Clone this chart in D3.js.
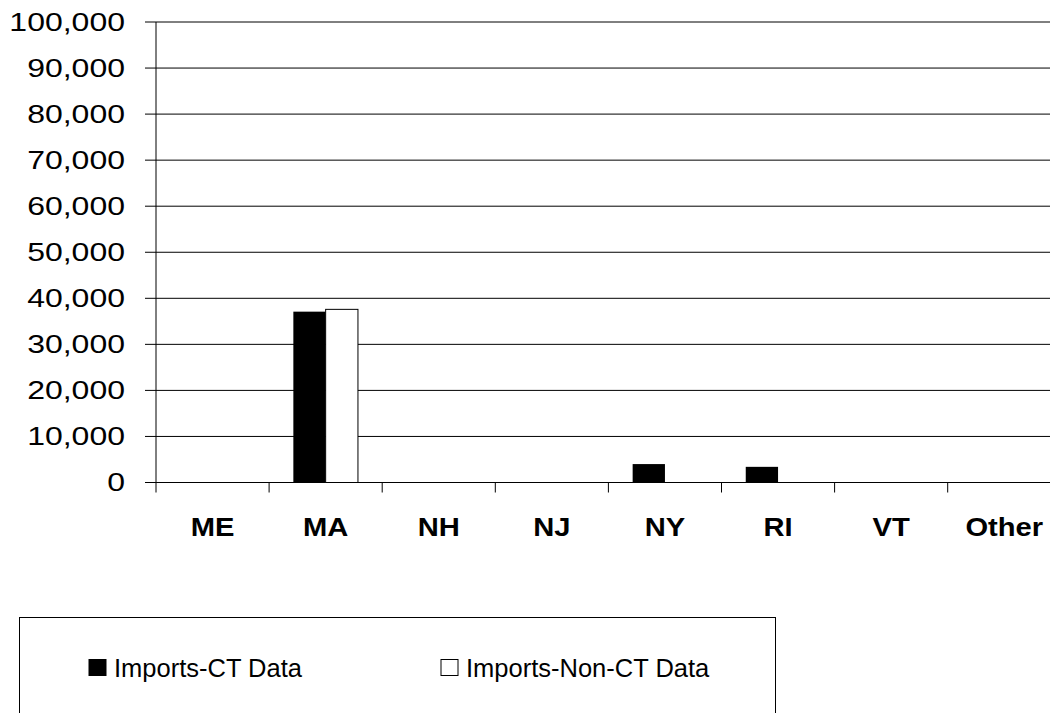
<!DOCTYPE html>
<html lang="en">
<head>
<meta charset="UTF-8">
<title>Imports by state</title>
<script src="https://d3js.org/d3.v7.min.js"></script>
<style>
  body { margin: 0; background: white; }
  svg { display: block; font-family: "Liberation Sans", Arial, sans-serif; }
  .ylab text { font-size: 25.6px; fill: black; }
  .xlab text { font-size: 26.5px; font-weight: bold; fill: black; }
</style>
</head>
<body>
<div id="chart"></div>
<script>
// values
const states = ["ME", "MA", "NH", "NJ", "NY", "RI", "VT", "Other"];
const importsCT = [0, 37100, 0, 0, 4000, 3400, 0, 0];
const importsNonCT = [0, 37600, 0, 0, 0, 0, 0, 0];
const yTicks = [0, 10000, 20000, 30000, 40000, 50000, 60000, 70000, 80000, 90000, 100000];
const seriesNames = ["Imports-CT Data", "Imports-Non-CT Data"];

const W = 1050, H = 713;
const plotLeft = 156, plotTop = 22, plotBottom = 482.5, band = 113.1;

const svg = d3.select("#chart").append("svg")
  .attr("width", W).attr("height", H);

const x = d3.scaleBand().domain(states).range([plotLeft, plotLeft + band * states.length]);
const y = d3.scaleLinear().domain([0, 100000]).range([plotBottom, plotTop]);
const barW = 32.3;

// gridlines + left ticks
svg.append("g").selectAll("line").data(yTicks).enter().append("line")
  .attr("x1", 145).attr("x2", W)
  .attr("y1", d => y(d)).attr("y2", d => y(d))
  .attr("stroke", "black").attr("stroke-width", 1);

// y axis line
svg.append("line")
  .attr("x1", plotLeft).attr("x2", plotLeft)
  .attr("y1", y(100000)).attr("y2", y(0))
  .attr("stroke", "black");

// y labels (stretched a bit wider, like the original)
svg.append("g").attr("class", "ylab").selectAll("text").data(yTicks).enter().append("text")
  .attr("text-anchor", "end")
  .attr("dominant-baseline", "central")
  .attr("transform", d => "translate(125," + y(d) + ") scale(1.25,1)")
  .text(d => d3.format(",")(d));

// x ticks at band edges
const edges = states.map(s => x(s));
svg.append("g").selectAll("line").data(edges).enter().append("line")
  .attr("x1", d => d).attr("x2", d => d)
  .attr("y1", y(0)).attr("y2", y(0) + 10)
  .attr("stroke", "black");

// bars
const cx = s => x(s) + x.bandwidth() / 2;
svg.append("g").selectAll("rect").data(states).enter().append("rect")
  .attr("x", s => cx(s) - barW)
  .attr("y", (s, i) => y(importsCT[i]))
  .attr("width", barW)
  .attr("height", (s, i) => y(0) - y(importsCT[i]))
  .attr("fill", "black");

svg.append("g").selectAll("rect").data(states).enter().append("rect")
  .filter((s, i) => importsNonCT[i] > 0)
  .attr("x", s => cx(s))
  .attr("y", s => y(importsNonCT[states.indexOf(s)]))
  .attr("width", barW)
  .attr("height", s => y(0) - y(importsNonCT[states.indexOf(s)]))
  .attr("fill", "white").attr("stroke", "black").attr("stroke-width", 1);

// x labels
svg.append("g").attr("class", "xlab").selectAll("text").data(states).enter().append("text")
  .attr("text-anchor", "middle")
  .attr("transform", s => "translate(" + cx(s) + ",536) scale(1.1,1)")
  .text(s => s);

// legend
const lg = svg.append("g");
lg.append("rect")
  .attr("x", 19.5).attr("y", 617.5).attr("width", 756).attr("height", 120)
  .attr("fill", "none").attr("stroke", "black");

const items = [
  { name: seriesNames[0], sx: 89, fill: "black" },
  { name: seriesNames[1], sx: 441, fill: "white" }
];
items.forEach(it => {
  lg.append("rect")
    .attr("x", it.sx).attr("y", 659.5).attr("width", 17).attr("height", 16)
    .attr("fill", it.fill).attr("stroke", "black");
  lg.append("text")
    .attr("x", it.sx + 25).attr("y", 677)
    .style("font-size", "25.5px")
    .text(it.name);
});
</script>
</body>
</html>
